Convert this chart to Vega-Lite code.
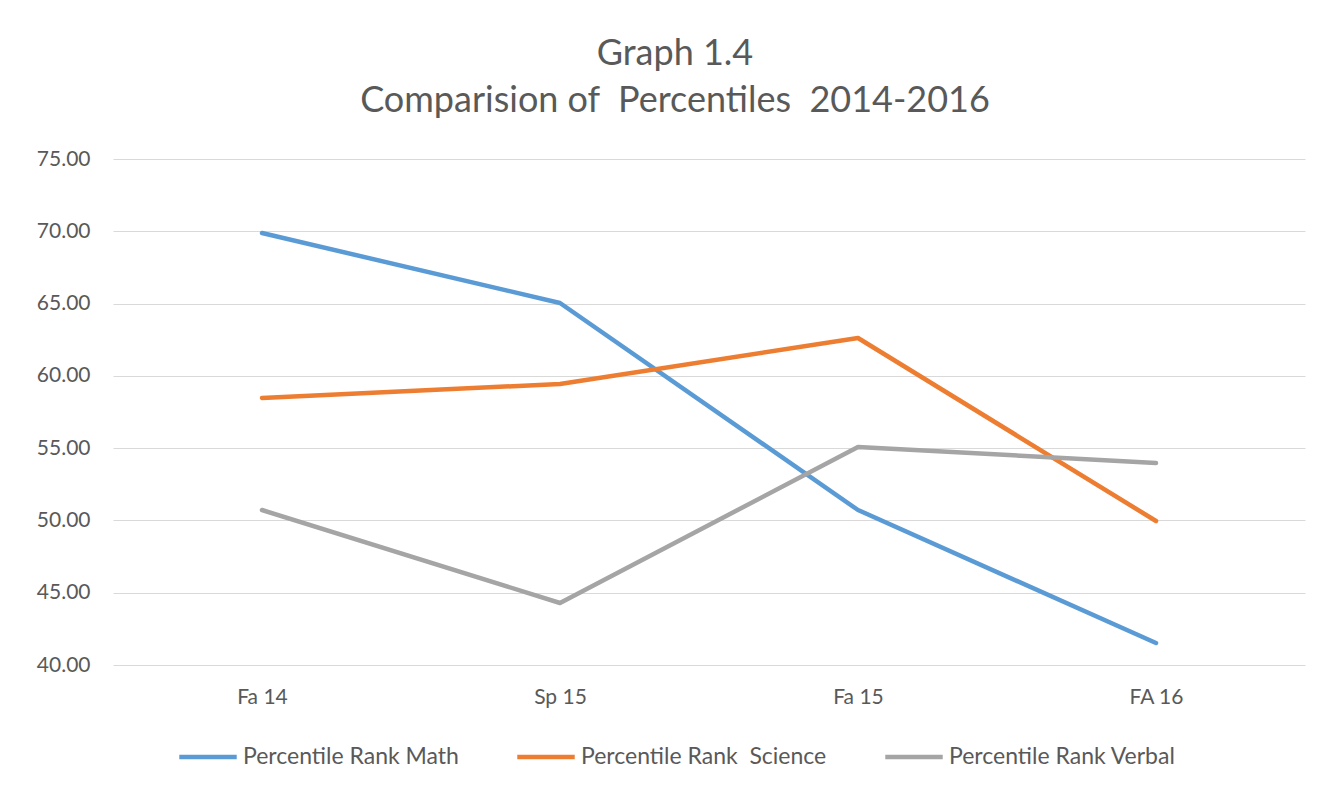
{
  "$schema": "https://vega.github.io/schema/vega-lite/v6.json",
  "autosize": "none",
  "width": 1192,
  "height": 506,
  "padding": {"left": 113, "top": 159, "right": 14, "bottom": 125},
  "background": "#ffffff",
  "config": {"view": {"stroke": null}},
  "title": {
    "text": ["Graph 1.4", "Comparision of\u00a0 Percentiles\u00a0 2014-2016"],
    "font": "Lato",
    "fontSize": 36,
    "fontWeight": "normal",
    "color": "#595959",
    "lineHeight": 47,
    "anchor": "middle",
    "baseline": "bottom",
    "offset": -8,
    "dx": -34
  },
  "data": {
    "values": [
      {"term": "Fa 14", "series": "Percentile Rank Math", "value": 69.88},
      {"term": "Sp 15", "series": "Percentile Rank Math", "value": 65.04},
      {"term": "Fa 15", "series": "Percentile Rank Math", "value": 50.72},
      {"term": "FA 16", "series": "Percentile Rank Math", "value": 41.52},
      {"term": "Fa 14", "series": "Percentile Rank\u00a0 Science", "value": 58.47},
      {"term": "Sp 15", "series": "Percentile Rank\u00a0 Science", "value": 59.44},
      {"term": "Fa 15", "series": "Percentile Rank\u00a0 Science", "value": 62.62},
      {"term": "FA 16", "series": "Percentile Rank\u00a0 Science", "value": 49.96},
      {"term": "Fa 14", "series": "Percentile Rank Verbal", "value": 50.72},
      {"term": "Sp 15", "series": "Percentile Rank Verbal", "value": 44.29},
      {"term": "Fa 15", "series": "Percentile Rank Verbal", "value": 55.08},
      {"term": "FA 16", "series": "Percentile Rank Verbal", "value": 53.97}
    ]
  },
  "mark": {"type": "line", "strokeWidth": 4.5, "strokeCap": "round", "strokeJoin": "round"},
  "encoding": {
    "x": {
      "field": "term",
      "type": "nominal",
      "sort": ["Fa 14", "Sp 15", "Fa 15", "FA 16"],
      "scale": {"type": "point", "padding": 0.5},
      "axis": {
        "title": null,
        "labelAngle": 0,
        "domain": false,
        "ticks": false,
        "grid": false,
        "labelFont": "Lato",
        "labelFontSize": 21,
        "labelColor": "#595959",
        "labelPadding": 21
      }
    },
    "y": {
      "field": "value",
      "type": "quantitative",
      "scale": {"domain": [40, 75], "nice": false, "zero": false},
      "axis": {
        "title": null,
        "values": [40, 45, 50, 55, 60, 65, 70, 75],
        "format": ".2f",
        "domain": false,
        "ticks": false,
        "grid": true,
        "gridColor": "#d9d9d9",
        "gridWidth": 1,
        "labelFont": "Lato",
        "labelFontSize": 21,
        "labelColor": "#595959",
        "labelPadding": 23
      }
    },
    "color": {
      "field": "series",
      "type": "nominal",
      "sort": ["Percentile Rank Math", "Percentile Rank\u00a0 Science", "Percentile Rank Verbal"],
      "scale": {
        "domain": ["Percentile Rank Math", "Percentile Rank\u00a0 Science", "Percentile Rank Verbal"],
        "range": ["#5B9BD5", "#ED7D31", "#A5A5A5"]
      },
      "legend": {
        "title": null,
        "orient": "none",
        "direction": "horizontal",
        "legendX": 64,
        "legendY": 567,
        "symbolType": "stroke",
        "symbolSize": 3300,
        "symbolStrokeWidth": 4.5,
        "labelFont": "Lato",
        "labelFontSize": 23,
        "labelLimit": 0,
        "labelColor": "#595959",
        "labelOffset": 4,
        "columnPadding": 49
      }
    }
  }
}
